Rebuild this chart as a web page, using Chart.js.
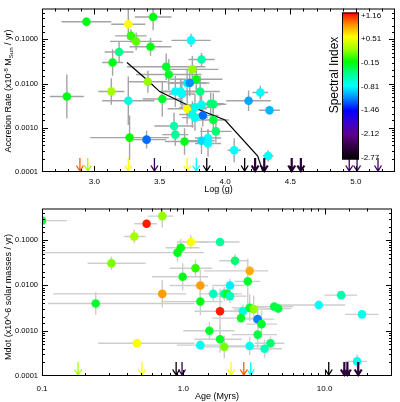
<!DOCTYPE html>
<html>
<head>
<meta charset="utf-8">
<script src="https://cdn.jsdelivr.net/npm/chart.js@4.4.0/dist/chart.umd.min.js"></script>
<style>
  html, body { margin: 0; padding: 0; background: #fff; }
  #wrap { position: relative; width: 400px; height: 402px; }
  .panel { position: absolute; left: 0; width: 400px; }
</style>
</head>
<body>
<div id="wrap">
  <div class="panel" style="top:0;height:200px"><canvas id="top" width="400" height="200"></canvas></div>
  <div class="panel" style="top:200px;height:202px"><canvas id="bottom" width="400" height="202"></canvas></div>
</div>
<script>
// ---- top panel: accretion rate vs log(g) ----
const topLogg = [2.94,3.26,3.45,3.28,3.32,3.43,3.19,3.14,3.55,3.57, 3.75,3.41,3.13,2.79,3.26,3.52,3.62,3.66,3.67,3.71,
                 3.61,3.62,3.27,3.40,3.69,3.74,3.82,3.78,3.71,3.73, 3.81,3.82,3.89,3.91,3.77,3.75,3.83,3.77,3.91,3.93,
                 3.87,3.82,3.87,4.07,4.18,4.27,4.34,4.33];
const topRate = [0.25,0.22,0.32,0.12,0.09,0.068,0.052,0.030,0.024,0.016, 0.021,0.011,0.0066,0.0051,0.0041,0.0045,0.0066,0.0066,0.0058,0.0027,
                 0.0011,0.0007,0.0006,0.00054,0.00049,0.095,0.035,0.0125,0.0103,0.0103, 0.0066,0.0033,0.0035,0.0034,0.0029,0.0020,0.0019,0.0017,0.0015,0.00083,
                 0.00059,0.00051,0.00044,0.00031,0.0041,0.0063,0.0025,0.00023];
const topIndex = [-0.2,0.5,-0.2,-0.05,0.05,-0.2,-0.45,-0.2,-0.25,-0.25, 0.15,0.15,0.2,-0.2,-0.7,-0.25,-0.8,-0.8,-0.8,0.5,
                  -0.55,-0.5,-0.15,-1.2,-0.2,-0.8,-0.55,-0.2,-0.85,-1.1, -0.45,-0.75,-0.45,-0.4,-0.75,-0.75,-1.2,-0.75,-0.3,-0.4,
                  -0.8,-0.9,-0.8,-0.8,-1.05,-0.8,-1.0,-0.8];
const topLoggErr = [0.19,0.13,0.14,0.12,0.2,0.16,0.11,0.08,0.3,0.25, 0.2,0.15,0.1,0.13,0.2,0.15,0.12,0.15,0.1,0.15,
                    0.15,0.1,0.3,0.15,0.15,0.15,0.1,0.2,0.15,0.15, 0.15,0.15,0.1,0.1,0.12,0.1,0.12,0.1,0.12,0.12,
                    0.1,0.1,0.1,0.05,0.17,0.06,0.08,0.04];
const topRateErrDex = [0.1,0.35,0.3,0.15,0.2,0.2,0.25,0.3,0.3,0.35, 0.3,0.25,0.3,0.5,0.55,0.4,0.35,0.3,0.3,0.35,
                       0.3,0.25,0.5,0.2,0.3,0.15,0.15,0.3,0.3,0.3, 0.35,0.3,0.25,0.25,0.3,0.3,0.25,0.3,0.3,0.25,
                       0.2,0.3,0.3,0.27,0.23,0.15,0.1,0.13];
const modelLogg = [3.25,3.42,3.50,3.72,4.00,4.25,4.29];
const modelRate = [0.030,0.011,0.0066,0.0032,0.0015,0.00023,0.0001];
const topLimitLogg = [2.89,2.95,3.26,3.46,3.71,3.78,3.86,4.15,4.23,4.30,4.51,4.58,4.95,5.01,5.17];
const topLimitIndex = [0.95,0.2,0.5,-2.4,0.5,-0.8,-2.77,-2.77,-2.5,-2.5,-2.5,-2.5,-2.3,-2.3,-2.3];

// ---- bottom panel: Mdot vs age ----
const age = [0.1,0.55,0.71,0.45,1.13,0.96,0.91,0.31,1.22,0.99, 0.71,0.24,0.47,1.82,2.32,2.95,2.86,1.32,2.14,1.63,
             1.95,2.04,2.14,1.32,1.82,2.64,2.95,3.15,4.4,4.7, 2.56,3.36,3.58,1.53,3.36,1.82,1.32,1.95,2.95,3.76,
             4.14,9.1,13.1,18.4,17.0];
const mdot = [0.27,0.23,0.34,0.12,0.091,0.068,0.053,0.031,0.024,0.0155, 0.0065,0.0040,0.00053,0.091,0.035,0.021,0.0123,0.010,0.010,0.0065,
              0.0065,0.0065,0.0058,0.0044,0.0027,0.0027,0.0032,0.0030,0.0034,0.0031, 0.0019,0.0018,0.0014,0.001,0.00082,0.00065,0.00048,0.00044,0.00046,0.0004,
              0.00053,0.0037,0.0061,0.0023,0.00021];
const ageIndex = [-0.25,1.1,0.15,0.2,0.5,-0.2,-0.2,0.1,-0.05,-0.2, 0.8,-0.25,0.5,-0.5,-0.4,0.75,-0.25,0.8,-0.85,-0.6,
                  -0.5,-0.25,-0.6,-0.2,1.1,-0.7,-0.25,0.15,-0.3,-0.3, -0.25,-1.15,-0.25,-0.25,-0.3,-0.25,-0.75,0.1,-0.75,-0.6,
                  -0.4,-0.8,-0.55,-0.75,-0.75];
const ageLo = [0.1,0.45,0.56,0.38,0.9,0.75,0.1,0.21,0.8,0.6, 0.12,0.11,0.25,1.3,1.8,1.4,2.3,0.8,1.6,1.3,
               1.5,1.6,1.7,0.7,1.2,2.0,2.2,2.3,3.0,3.8, 1.6,2.6,2.8,1.0,2.2,1.2,0.9,1.4,2.0,2.8,
               3.2,4.4,10,14,14];
const ageHi = [0.15,0.65,0.85,0.54,1.5,1.3,1.4,0.54,1.6,1.5, 1.05,1.2,1.2,2.5,2.9,4.0,3.5,1.5,2.7,2.0,
               2.4,2.6,2.8,1.9,2.7,3.4,3.8,4.2,6.0,5.8, 3.5,4.4,4.6,2.3,4.6,2.6,2.0,2.8,4.0,5.0,
               5.2,14,17,24,20];
const mdotErrDex = [0.05,0.1,0.25,0.15,0.15,0.2,0.2,0.15,0.2,0.3, 0.3,0.25,0.05,0.1,0.15,0.1,0.5,0.35,0.15,0.15,
                    0.15,0.15,0.15,0.3,0.5,0.15,0.3,0.3,0.1,0.1, 0.1,0.3,0.3,0.2,0.3,0.3,0.1,0.25,0.2,0.2,
                    0.15,0.1,0.05,0.05,0.15];
const ageLimit = [0.18,0.51,0.89,0.98,2.18,2.68,3.0,10.7,13.8,14.5,17.3];
const ageLimitIndex = [0.2,0.5,-2.77,-2.4,0.5,0.95,-0.8,-2.77,-2.45,-2.45,-2.45];

// colour bar
const colorbarValues = [1.16,0.51,-0.15,-0.81,-1.46,-2.12,-2.77];

const FONT = '"Liberation Sans", Arial, sans-serif';
const IDX_MIN = -2.77, IDX_MAX = 1.16;

// IDL-like rainbow: black -> purple -> blue -> cyan -> green -> yellow -> red
const cmapStops = [
  [0.00, [0,0,0]], [0.08, [45,0,60]], [0.17, [95,0,140]], [0.25, [60,0,210]],
  [0.333, [0,0,255]], [0.42, [0,140,255]], [0.5, [0,255,255]], [0.58, [0,255,150]],
  [0.667, [0,255,0]], [0.75, [160,255,0]], [0.835, [255,255,0]], [0.92, [255,140,0]], [1.0, [255,0,0]]
];
function cmap(t) {
  t = Math.max(0, Math.min(1, t));
  for (let i = 1; i < cmapStops.length; i++) {
    const [t1, c1] = cmapStops[i];
    const [t0, c0] = cmapStops[i - 1];
    if (t <= t1) {
      const f = (t - t0) / (t1 - t0);
      const c = c0.map((v, k) => Math.round(v + (c1[k] - v) * f));
      return `rgb(${c[0]},${c[1]},${c[2]})`;
    }
  }
  return 'rgb(255,0,0)';
}
const specColor = v => cmap((v - IDX_MIN) / (IDX_MAX - IDX_MIN));

const isDecade = v => Math.abs(Math.log10(v) - Math.round(Math.log10(v))) < 1e-6;
const isHalf = v => Math.abs(v * 2 - Math.round(v * 2)) < 1e-6;

// error bars drawn under the points
function errorBars(color) {
  return {
    id: 'errorBars',
    beforeDatasetsDraw(chart) {
      const { ctx, chartArea: a, scales: { x, y } } = chart;
      ctx.save();
      ctx.beginPath();
      ctx.rect(a.left, a.top, a.right - a.left, a.bottom - a.top);
      ctx.clip();
      ctx.strokeStyle = color;
      ctx.lineWidth = 1.4;
      chart.data.datasets.forEach(ds => {
        if (!ds.withErrors) return;
        ds.data.forEach(p => {
          const px = x.getPixelForValue(p.x), py = y.getPixelForValue(p.y);
          ctx.beginPath();
          ctx.moveTo(x.getPixelForValue(p.xMin), py);
          ctx.lineTo(x.getPixelForValue(p.xMax), py);
          ctx.moveTo(px, y.getPixelForValue(p.yMin));
          ctx.lineTo(px, y.getPixelForValue(p.yMax));
          ctx.stroke();
        });
      });
      ctx.restore();
    }
  };
}

// upper-limit arrows along the bottom axis
function limitArrows(xs, idx) {
  return {
    id: 'limits',
    afterDatasetsDraw(chart) {
      const { ctx, scales: { x, y } } = chart;
      const base = y.getPixelForValue(y.min) - 1;
      ctx.save();
      xs.forEach((v, i) => {
        const px = x.getPixelForValue(v);
        ctx.strokeStyle = specColor(idx[i]);
        ctx.lineWidth = (idx[i] < -2.4 && idx[i] > -2.7) ? 2.2 : 1.3;
        ctx.beginPath();
        ctx.moveTo(px, base - 13);
        ctx.lineTo(px, base);
        ctx.moveTo(px - 3.5, base - 5.5);
        ctx.lineTo(px, base);
        ctx.lineTo(px + 3.5, base - 5.5);
        ctx.stroke();
      });
      ctx.restore();
    }
  };
}

// box with inward ticks on all four sides
function frame(majorX, majorY) {
  return {
    id: 'frame',
    afterDraw(chart) {
      const { ctx, chartArea: a, scales: { x, y } } = chart;
      ctx.save();
      ctx.strokeStyle = '#000';
      ctx.lineWidth = 1;
      ctx.beginPath();
      x.ticks.forEach(t => {
        const px = Math.round(x.getPixelForValue(t.value)) + 0.5;
        if (px <= a.left + 1 || px >= a.right - 1) return;
        const len = majorX(t.value) ? 6 : 3;
        ctx.moveTo(px, a.bottom); ctx.lineTo(px, a.bottom - len);
        ctx.moveTo(px, a.top); ctx.lineTo(px, a.top + len);
      });
      y.ticks.forEach(t => {
        const py = Math.round(y.getPixelForValue(t.value)) + 0.5;
        if (py <= a.top + 1 || py >= a.bottom - 1) return;
        const len = majorY(t.value) ? 6 : 3;
        ctx.moveTo(a.left, py); ctx.lineTo(a.left + len, py);
        ctx.moveTo(a.right, py); ctx.lineTo(a.right - len, py);
      });
      ctx.stroke();
      ctx.strokeRect(a.left + 0.5, a.top + 0.5, a.right - a.left - 1, a.bottom - a.top - 1);
      ctx.restore();
    }
  };
}

// axis titles; y title may carry super/subscripts: [text, shift]
function titles(xTitle, xTitleY, yParts, yCenter) {
  return {
    id: 'titles',
    afterDraw(chart) {
      const { ctx, chartArea: a } = chart;
      ctx.save();
      ctx.fillStyle = '#000';
      ctx.font = `9px ${FONT}`;
      ctx.textAlign = 'center';
      ctx.textBaseline = 'middle';
      ctx.fillText(xTitle, (a.left + a.right) / 2, xTitleY);
      ctx.translate(9, yCenter);
      ctx.rotate(-Math.PI / 2);
      ctx.textAlign = 'left';
      const fontFor = s => s === 0 ? `9px ${FONT}` : `6px ${FONT}`;
      let total = 0;
      yParts.forEach(([txt, s]) => { ctx.font = fontFor(s); total += ctx.measureText(txt).width; });
      let cx = -total / 2;
      yParts.forEach(([txt, s]) => {
        ctx.font = fontFor(s);
        ctx.fillText(txt, cx, s > 0 ? -3 : (s < 0 ? 2.5 : 0));
        cx += ctx.measureText(txt).width;
      });
      ctx.restore();
    }
  };
}

const colorBar = {
  id: 'colorBar',
  afterDraw(chart) {
    const { ctx, chartArea: a } = chart;
    const left = a.right - 53, w = 17, top = a.top + 4, bottom = a.top + 151;
    ctx.save();
    const g = ctx.createLinearGradient(0, bottom, 0, top);
    cmapStops.forEach(([t]) => g.addColorStop(t, cmap(t)));
    ctx.fillStyle = g;
    ctx.fillRect(left, top, w, bottom - top);
    ctx.strokeStyle = '#000';
    ctx.lineWidth = 1;
    ctx.strokeRect(left + 0.5, top + 0.5, w - 1, bottom - top - 1);
    ctx.fillStyle = '#000';
    ctx.font = `8px ${FONT}`;
    ctx.textAlign = 'left';
    ctx.textBaseline = 'middle';
    colorbarValues.forEach(v => {
      const py = top + 3 + (IDX_MAX - v) / (IDX_MAX - IDX_MIN) * (bottom - top - 5);
      ctx.fillText((v > 0 ? '+' : '') + v.toFixed(2), left + w + 2, py);
    });
    ctx.font = `12px ${FONT}`;
    ctx.textAlign = 'center';
    ctx.translate(left - 7, 75);
    ctx.rotate(-Math.PI / 2);
    ctx.fillText('Spectral Index', 0, 0);
    ctx.restore();
  }
};

const xTickFont = { family: FONT, size: 8 };
const yTickFont = { family: FONT, size: 7.5 };
const noGrid = { display: false, drawTicks: false, tickLength: 0 };

const topPoints = topLogg.map((g, i) => ({
  x: g, y: topRate[i],
  xMin: g - topLoggErr[i], xMax: g + topLoggErr[i],
  yMin: topRate[i] / Math.pow(10, topRateErrDex[i]), yMax: topRate[i] * Math.pow(10, topRateErrDex[i])
}));
const modelPoints = modelLogg.map((g, i) => ({ x: g, y: modelRate[i] }));

new Chart(document.getElementById('top'), {
  type: 'scatter',
  data: {
    datasets: [
      { data: topPoints, withErrors: true, pointBackgroundColor: topIndex.map(specColor),
        pointBorderWidth: 0, pointRadius: 4.3, clip: 0 },
      { type: 'line', data: modelPoints, borderColor: '#000', borderWidth: 1.2, pointRadius: 0,
        fill: false, tension: 0, clip: 0 }
    ]
  },
  options: {
    responsive: false,
    animation: false,
    layout: { padding: { top: 1, right: 2, left: 0, bottom: 0 } },
    plugins: { legend: { display: false }, tooltip: { enabled: false } },
    scales: {
      x: {
        type: 'linear', min: 2.6, max: 5.3,
        grid: noGrid, border: { display: false },
        ticks: { stepSize: 0.1, autoSkip: false, maxRotation: 0, padding: 5, color: '#000', font: xTickFont,
                 callback: v => isHalf(v) ? v.toFixed(1) : '' },
        afterFit: s => { s.height = 28; }
      },
      y: {
        type: 'logarithmic', min: 0.0001, max: 0.5,
        grid: noGrid, border: { display: false },
        ticks: { autoSkip: false, padding: 4, color: '#000', font: yTickFont,
                 callback: v => isDecade(v) ? v.toFixed(4) : '' },
        afterFit: s => { s.width = 42; }
      }
    }
  },
  plugins: [errorBars('#a4a4a4'), limitArrows(topLimitLogg, topLimitIndex), frame(isHalf, isDecade), colorBar,
            titles('Log (g)', 190, [['Accretion Rate (x10', 0], ['-8', 1], [' M', 0], ['Sun', -1], [' / yr)', 0]], 91)]
});

const agePoints = age.map((t, i) => ({
  x: t, y: mdot[i],
  xMin: ageLo[i], xMax: ageHi[i],
  yMin: mdot[i] / Math.pow(10, mdotErrDex[i]), yMax: mdot[i] * Math.pow(10, mdotErrDex[i])
}));

new Chart(document.getElementById('bottom'), {
  type: 'scatter',
  data: {
    datasets: [
      { data: agePoints, withErrors: true, pointBackgroundColor: ageIndex.map(specColor),
        pointBorderWidth: 0, pointRadius: 4.3, clip: 0 }
    ]
  },
  options: {
    responsive: false,
    animation: false,
    layout: { padding: { top: 3, right: 2, left: 0, bottom: 0 } },
    plugins: { legend: { display: false }, tooltip: { enabled: false } },
    scales: {
      x: {
        type: 'logarithmic', min: 0.1, max: 30,
        grid: noGrid, border: { display: false },
        ticks: { autoSkip: false, maxRotation: 0, padding: 8, color: '#000', font: xTickFont,
                 callback: v => isDecade(v) ? v.toFixed(1) : '' },
        afterFit: s => { s.height = 26; }
      },
      y: {
        type: 'logarithmic', min: 0.0001, max: 0.5,
        grid: noGrid, border: { display: false },
        ticks: { autoSkip: false, padding: 4, color: '#000', font: yTickFont,
                 callback: v => isDecade(v) ? v.toFixed(4) : '' },
        afterFit: s => { s.width = 42; }
      }
    }
  },
  plugins: [errorBars('#cdcdcd'), limitArrows(ageLimit, ageLimitIndex), frame(isDecade, isDecade),
            titles('Age (Myrs)', 197, [['Mdot (x10^-6 solar masses / yr)', 0]], 97)]
});
</script>
</body>
</html>
